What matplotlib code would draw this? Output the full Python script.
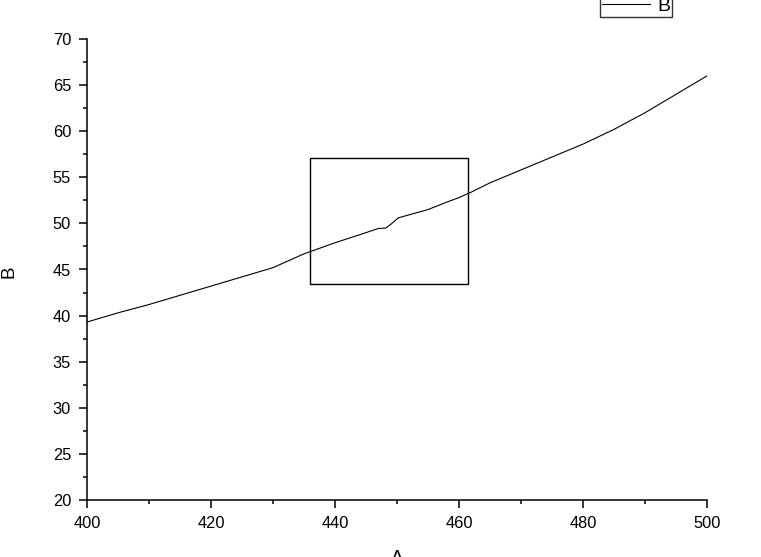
import matplotlib
matplotlib.use("Agg")
import matplotlib.pyplot as plt
from matplotlib.patches import Rectangle
from matplotlib.ticker import MultipleLocator

plt.rcParams['font.family'] = ['Liberation Sans', 'DejaVu Sans']

# Data
x_vals = [400, 405, 410, 415, 420, 425, 430, 435, 440, 445, 447, 448.2, 449, 450.2,
          455, 458, 460, 462, 465, 470, 475, 480, 485, 490, 495, 500]
y_vals = [39.3, 40.3, 41.2, 42.2, 43.2, 44.2, 45.2, 46.7, 47.9, 49.0, 49.45, 49.5, 49.9, 50.6,
          51.5, 52.3, 52.8, 53.4, 54.4, 55.8, 57.2, 58.6, 60.2, 62.0, 64.0, 66.0]
series_name = "B"
x_label = "A"
y_label = "B"
x_ticks = [400, 420, 440, 460, 480, 500]
y_ticks = [20, 25, 30, 35, 40, 45, 50, 55, 60, 65, 70]
# highlight box (data coordinates)
box_x0, box_y0, box_x1, box_y1 = 436.0, 43.4, 461.5, 57.1

W, H = 761, 557
fig = plt.figure(figsize=(W / 100, H / 100), dpi=100)
ax = fig.add_axes([87 / W, 1 - 500 / H, 620 / W, 461 / H])

line, = ax.plot(x_vals, y_vals, color='black', linewidth=0.8, label=series_name)
ax.add_patch(Rectangle((box_x0, box_y0), box_x1 - box_x0, box_y1 - box_y0,
                       fill=False, edgecolor='black', linewidth=1.0))

ax.set_xlim(400, 500)
ax.set_ylim(20, 70)
ax.set_xticks(x_ticks)
ax.set_yticks(y_ticks)
ax.xaxis.set_minor_locator(MultipleLocator(10))
ax.yaxis.set_minor_locator(MultipleLocator(2.5))

for s in ['top', 'right']:
    ax.spines[s].set_visible(False)
for s in ['left', 'bottom']:
    ax.spines[s].set_linewidth(1.1)

ax.tick_params(which='major', direction='out', length=6, width=1.1, labelsize=11.8, pad=5.5,
               colors='black')
ax.tick_params(which='minor', direction='out', length=3, width=1.1)

ax.set_xlabel(x_label, fontsize=13.5)
ax.xaxis.set_label_coords(0.5, -0.108)
ax.set_ylabel(y_label, fontsize=13.5)
ax.yaxis.set_label_coords(-0.112, 0.495)

leg = fig.legend(handles=[line], loc='lower left',
                 bbox_to_anchor=(600 / W, 1 - 17 / H), bbox_transform=fig.transFigure,
                 frameon=True, fancybox=False, shadow=False, fontsize=14,
                 handlelength=2.45, handletextpad=0.4, borderpad=0.1, borderaxespad=0)
leg.get_frame().set_edgecolor('black')
leg.get_frame().set_linewidth(1.0)

fig.savefig('out.png', dpi=100)
